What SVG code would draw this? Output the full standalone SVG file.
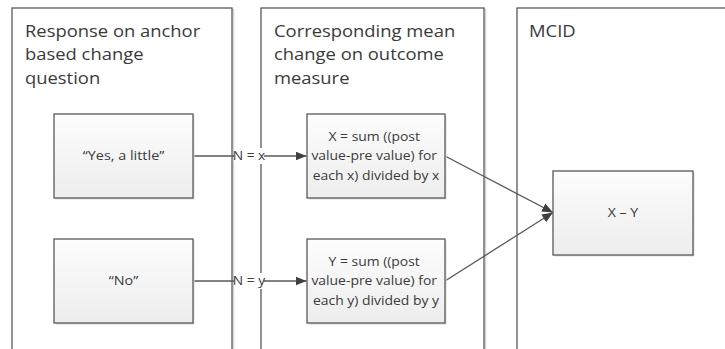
<svg xmlns="http://www.w3.org/2000/svg" width="725" height="349" viewBox="0 0 725 349">
  <defs>
    <linearGradient id="boxFill" x1="0" y1="0" x2="0" y2="1">
      <stop offset="0" stop-color="#fdfdfd"/>
      <stop offset="1" stop-color="#ededed"/>
    </linearGradient>
    <marker id="arrow" markerWidth="12" markerHeight="10" refX="11" refY="5" orient="auto" markerUnits="userSpaceOnUse">
      <path d="M0,0.5 L11,5 L0,9.5 Z" fill="#404040"/>
    </marker>
    <style>
      .lane { fill: #ffffff; stroke: #595959; stroke-width: 1.3; }
      .lane-shadow { fill: none; stroke: #d4d4d4; stroke-width: 1.5; }
      .box { fill: url(#boxFill); stroke: #595959; stroke-width: 1.3; }
      .box-shadow { fill: #dcdcdc; }
      .head { font-family: "Open Sans", "Liberation Sans", sans-serif; font-size: 16px; fill: #3a3a3a; }
      .txt { font-family: "Open Sans", "Liberation Sans", sans-serif; font-size: 12px; fill: #3a3a3a; text-anchor: middle; }
      .lbl { font-family: "Open Sans", "Liberation Sans", sans-serif; font-size: 12px; fill: #3a3a3a; text-anchor: middle; }
      .conn { fill: none; stroke: #595959; stroke-width: 1.3; }
    </style>
  </defs>

  <rect width="725" height="349" fill="#ffffff"/>

  <!-- swimlanes -->
  <g id="lane-response">
    <rect class="lane-shadow" x="13.5" y="9.5" width="220" height="360"/>
    <rect class="lane" x="12" y="8" width="220" height="360"/>
    <text class="head" transform="translate(25 0) scale(1.15 1)">
      <tspan x="0" y="37">Response on anchor</tspan>
      <tspan x="0" y="60.5">based change</tspan>
      <tspan x="0" y="84">question</tspan>
    </text>
  </g>
  <g id="lane-mean-change">
    <rect class="lane-shadow" x="262.5" y="9.5" width="223" height="360"/>
    <rect class="lane" x="261" y="8" width="223" height="360"/>
    <text class="head" transform="translate(274 0) scale(1.15 1)">
      <tspan x="0" y="37">Corresponding mean</tspan>
      <tspan x="0" y="60.5">change on outcome</tspan>
      <tspan x="0" y="84">measure</tspan>
    </text>
  </g>
  <g id="lane-mcid">
    <rect class="lane-shadow" x="518.5" y="9.5" width="230" height="360"/>
    <rect class="lane" x="517" y="8" width="230" height="360"/>
    <text class="head" transform="translate(529 0) scale(1.15 1)">
      <tspan x="0" y="37">MCID</tspan>
    </text>
  </g>

  <!-- connectors -->
  <g id="connectors">
    <line class="conn" x1="193" y1="156" x2="306.5" y2="156" marker-end="url(#arrow)"/>
    <line class="conn" x1="193" y1="281" x2="306.5" y2="281" marker-end="url(#arrow)"/>
    <line class="conn" x1="445" y1="156" x2="553" y2="212.5" marker-end="url(#arrow)"/>
    <line class="conn" x1="445" y1="281" x2="553" y2="212.5" marker-end="url(#arrow)"/>
    <g id="label-n-x">
      <rect x="234" y="148" width="30" height="16" fill="#ffffff"/>
      <text class="lbl" transform="translate(249 0) scale(1.15 1)" x="0" y="160.5">N = x</text>
    </g>
    <g id="label-n-y">
      <rect x="234" y="273" width="30" height="16" fill="#ffffff"/>
      <text class="lbl" transform="translate(249 0) scale(1.15 1)" x="0" y="285.5">N = y</text>
    </g>
  </g>

  <!-- nodes -->
  <g id="yes-a-little">
    <rect class="box-shadow" x="55.5" y="115.5" width="139" height="84"/>
    <rect class="box" x="54" y="114" width="139" height="84"/>
    <text class="txt" transform="translate(123.5 0) scale(1.2 1)" x="0" y="160.5">“Yes, a little”</text>
  </g>
  <g id="no">
    <rect class="box-shadow" x="55.5" y="240.5" width="139" height="84"/>
    <rect class="box" x="54" y="239" width="139" height="84"/>
    <text class="txt" transform="translate(123.5 0) scale(1.2 1)" x="0" y="285.5">“No”</text>
  </g>
  <g id="mean-x">
    <rect class="box-shadow" x="308.5" y="115.5" width="138" height="84"/>
    <rect class="box" x="307" y="114" width="138" height="84"/>
    <text class="txt" transform="translate(376 0) scale(1.16 1)">
      <tspan x="0" y="141">X = sum ((post</tspan>
      <tspan x="0" y="160.5">value-pre value) for</tspan>
      <tspan x="0" y="180">each x) divided by x</tspan>
    </text>
  </g>
  <g id="mean-y">
    <rect class="box-shadow" x="308.5" y="240.5" width="138" height="84"/>
    <rect class="box" x="307" y="239" width="138" height="84"/>
    <text class="txt" transform="translate(376 0) scale(1.16 1)">
      <tspan x="0" y="266">Y = sum ((post</tspan>
      <tspan x="0" y="285.5">value-pre value) for</tspan>
      <tspan x="0" y="305">each y) divided by y</tspan>
    </text>
  </g>
  <g id="mcid-diff">
    <rect class="box-shadow" x="554.5" y="172.5" width="140" height="84"/>
    <rect class="box" x="553" y="171" width="140" height="84"/>
    <text class="txt" transform="translate(623 0) scale(1.18 1)" x="0" y="217">X – Y</text>
  </g>
</svg>
